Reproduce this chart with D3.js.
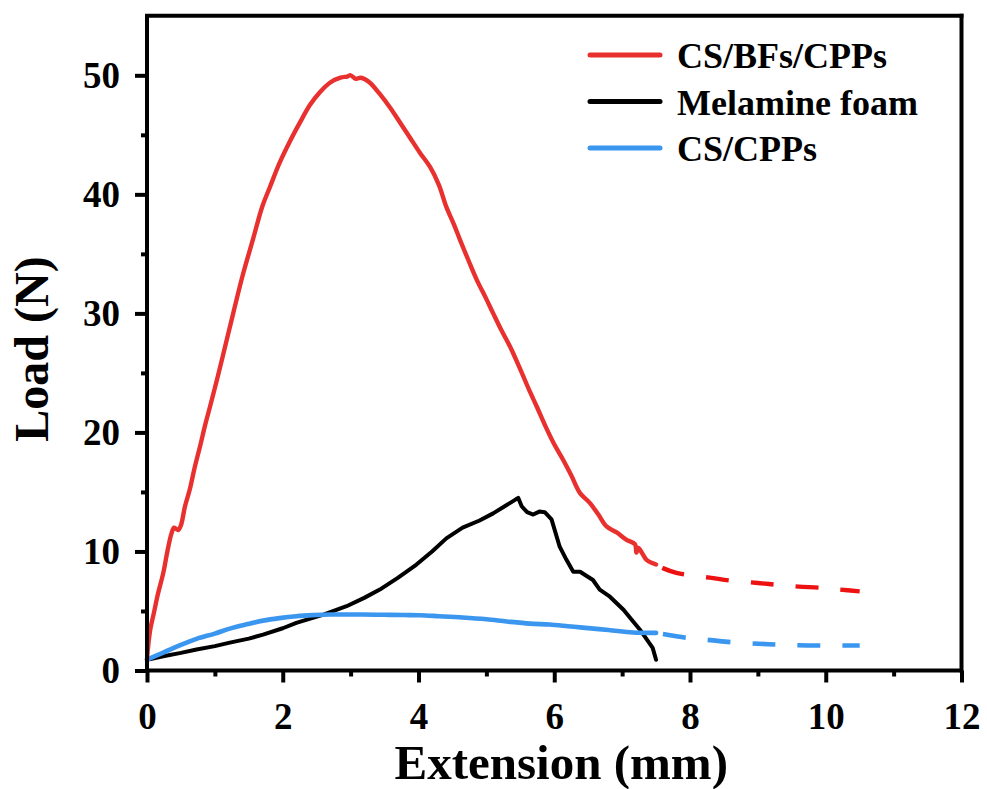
<!DOCTYPE html>
<html>
<head>
<meta charset="utf-8">
<script src="https://cdn.jsdelivr.net/npm/d3@7"></script>
<style>
  html, body { margin: 0; padding: 0; background: #fff; }
  svg { display: block; }
  text { font-family: "Liberation Serif", "Times New Roman", serif; font-weight: bold; fill: #000; }
</style>
</head>
<body>
<svg id="chart" width="987" height="789"></svg>
<script>
// Load–extension curves (extension in mm, load in N)
const seriesNames = ["CS/BFs/CPPs", "Melamine foam", "CS/CPPs"];

const redSolid = [
  [0,0.9],[0.02,2.2],[0.05,3.5],[0.1,4.8],[0.16,6.4],[0.24,8.2],[0.3,10.0],[0.36,11.5],[0.4,12.0],
  [0.46,11.8],[0.5,12.2],[0.56,13.8],[0.63,15.2],[0.7,17.0],[0.78,18.8],[0.86,20.7],[0.93,22.2],
  [1.03,24.4],[1.15,27.2],[1.27,30.0],[1.41,33.2],[1.56,36.2],[1.7,39.0],[1.81,40.6],[1.95,42.6],
  [2.11,44.5],[2.25,46.0],[2.4,47.5],[2.55,48.6],[2.7,49.4],[2.85,49.8],[2.95,49.9],[3.0,50.0],
  [3.08,49.7],[3.15,49.8],[3.28,49.4],[3.42,48.5],[3.58,47.3],[3.72,46.1],[3.87,44.8],[4.02,43.5],
  [4.17,42.3],[4.3,40.8],[4.41,38.95],[4.52,37.5],[4.61,36.2],[4.74,34.4],[4.86,32.8],[5.0,31.2],
  [5.1,30.0],[5.22,28.6],[5.35,27.2],[5.5,25.3],[5.62,23.7],[5.74,22.2],[5.88,20.4],[6.0,19.0],
  [6.13,17.7],[6.25,16.4],[6.38,14.9],[6.52,14.1],[6.65,13.1],[6.77,12.1],[6.92,11.6],[7.06,11.0],
  [7.19,10.6],[7.21,9.9],[7.24,10.3],[7.3,9.8],[7.36,9.3],[7.5,8.9]
];
const redDashed = [
  [7.5,8.9],[7.6,8.6],[7.8,8.2],[8.0,8.0],[8.29,7.8],[8.6,7.55],[9.0,7.35],[9.28,7.2],
  [9.6,7.05],[9.91,6.96],[10.2,6.8],[10.5,6.65]
];

const blackSolid = [
  [0,0.9],[0.24,1.2],[0.5,1.48],[0.73,1.76],[1.0,2.05],[1.22,2.34],[1.5,2.68],[1.71,3.02],
  [2.0,3.55],[2.2,4.0],[2.6,4.7],[2.94,5.4],[3.2,6.1],[3.43,6.8],[3.7,7.8],[3.97,8.9],[4.2,10.0],
  [4.41,11.1],[4.65,12.0],[4.9,12.6],[5.1,13.2],[5.3,13.9],[5.44,14.4],[5.47,14.5],[5.52,13.8],
  [5.6,13.3],[5.69,13.1],[5.78,13.35],[5.86,13.3],[5.96,12.7],[6.08,10.4],[6.18,9.3],[6.28,8.3],
  [6.38,8.3],[6.57,7.6],[6.67,6.8],[6.82,6.2],[7.02,5.1],[7.15,4.2],[7.26,3.45],[7.45,1.9],[7.5,0.9]
];

const blueSolid = [
  [0,0.92],[0.24,1.5],[0.5,2.15],[0.73,2.66],[1.0,3.1],[1.22,3.52],[1.47,3.88],[1.71,4.19],
  [1.95,4.4],[2.2,4.56],[2.45,4.65],[2.7,4.7],[3.0,4.7],[3.18,4.7],[3.5,4.68],[3.8,4.66],
  [4.02,4.64],[4.3,4.56],[4.65,4.45],[5.0,4.3],[5.3,4.12],[5.64,3.94],[5.93,3.86],[6.2,3.72],
  [6.42,3.6],[6.8,3.4],[7.16,3.19],[7.5,3.16]
];
const blueDashed = [
  [7.5,3.16],[7.95,2.74],[8.3,2.55],[8.61,2.38],[9.0,2.25],[9.27,2.18],[9.6,2.12],[9.94,2.1],[10.5,2.1]
];

const xTicks = [0, 2, 4, 6, 8, 10, 12];
const xMinorTicks = [1, 3, 5, 7, 9, 11];
const yTicks = [0, 10, 20, 30, 40, 50];
const yMinorTicks = [5, 15, 25, 35, 45];

const colors = { red: "#e8312f", redDash: "#ee1111", black: "#000000", blue: "#3a96ee" };

const svg = d3.select("#chart");
const plotLeft = 147, plotRight = 961.5, plotTop = 15.8, plotBottom = 670.5;

const x = d3.scaleLinear().domain([0, 12]).range([plotLeft, plotRight]);
const y = d3.scaleLinear().domain([0, 55]).range([plotBottom, plotTop]);

const smoothLine = d3.line().x(d => x(d[0])).y(d => y(d[1])).curve(d3.curveCatmullRom.alpha(0.5));
const rawLine = d3.line().x(d => x(d[0])).y(d => y(d[1]));

// Curves
const plot = svg.append("g");
function drawCurve(data, color, dashed, gen, width) {
  plot.append("path")
    .datum(data)
    .attr("d", gen)
    .attr("fill", "none")
    .attr("stroke", color)
    .attr("stroke-width", width)
    .attr("stroke-linejoin", "round")
    .attr("stroke-linecap", dashed ? "butt" : "round")
    .attr("stroke-dasharray", dashed ? "23,22" : null)
    .attr("stroke-dashoffset", dashed ? 38 : null);
}
drawCurve(blackSolid, colors.black, false, rawLine, 4);
drawCurve(blueSolid, colors.blue, false, smoothLine, 4.6);
drawCurve(blueDashed, colors.blue, true, smoothLine, 4.6);
drawCurve(redSolid, colors.red, false, smoothLine, 4.4);
drawCurve(redDashed, colors.redDash, true, smoothLine, 4.4);

// Frame (top and right)
svg.append("line").attr("x1", plotLeft).attr("x2", plotRight).attr("y1", plotTop).attr("y2", plotTop)
  .attr("stroke", "#000").attr("stroke-width", 4).attr("stroke-linecap", "square");
svg.append("line").attr("x1", plotRight).attr("x2", plotRight).attr("y1", plotTop).attr("y2", plotBottom)
  .attr("stroke", "#000").attr("stroke-width", 4).attr("stroke-linecap", "square");

// Axes
const xAxis = svg.append("g").attr("transform", `translate(0,${plotBottom})`)
  .call(d3.axisBottom(x).tickValues(xTicks).tickSize(12).tickPadding(20).tickFormat(d3.format("d")));
const xMinor = svg.append("g").attr("transform", `translate(0,${plotBottom})`)
  .call(d3.axisBottom(x).tickValues(xMinorTicks).tickSize(6).tickFormat(""));
const yAxis = svg.append("g").attr("transform", `translate(${plotLeft},0)`)
  .call(d3.axisLeft(y).tickValues(yTicks).tickSize(12).tickPadding(15).tickFormat(d3.format("d")));
const yMinor = svg.append("g").attr("transform", `translate(${plotLeft},0)`)
  .call(d3.axisLeft(y).tickValues(yMinorTicks).tickSize(6).tickFormat(""));

[xAxis, xMinor, yAxis, yMinor].forEach(g => {
  g.select(".domain").attr("stroke", "#000").attr("stroke-width", 4);
  g.selectAll(".tick line").attr("stroke", "#000").attr("stroke-width", 4);
  g.selectAll(".tick text").style("font-size", "37px")
    .style("font-family", "'Liberation Serif', 'Times New Roman', serif").style("font-weight", "bold");
});
xMinor.select(".domain").remove();
yMinor.select(".domain").remove();
xAxis.select(".domain").attr("d", `M${plotLeft},0H${plotRight}`);
yAxis.select(".domain").attr("d", `M0,${plotBottom}V${plotTop}`);

// Axis titles
svg.append("text")
  .attr("x", (plotLeft + plotRight) / 2 + 7)
  .attr("y", 779)
  .attr("text-anchor", "middle")
  .style("font-size", "49px")
  .text("Extension (mm)");

svg.append("text")
  .attr("transform", "translate(48,349) rotate(-90)")
  .attr("text-anchor", "middle")
  .style("font-size", "48px")
  .text("Load (N)");

// Legend
const legendItems = [
  { name: seriesNames[0], color: colors.red },
  { name: seriesNames[1], color: colors.black },
  { name: seriesNames[2], color: colors.blue }
];
const legend = svg.append("g");
legendItems.forEach((d, i) => {
  const ly = 55 + i * 46.5;
  legend.append("line")
    .attr("x1", 590).attr("x2", 660).attr("y1", ly).attr("y2", ly)
    .attr("stroke", d.color).attr("stroke-width", 5).attr("stroke-linecap", "round");
  legend.append("text")
    .attr("x", 677).attr("y", ly + 13)
    .style("font-size", "36px")
    .text(d.name);
});
</script>
</body>
</html>
